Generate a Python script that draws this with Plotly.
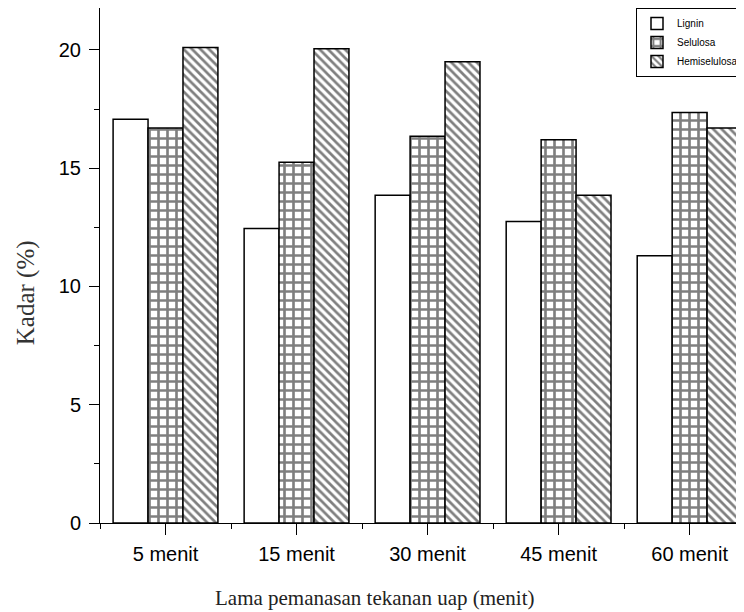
import plotly.graph_objects as go

categories = ["5 menit", "15 menit", "30 menit", "45 menit", "60 menit"]
lignin = [17.07, 12.45, 13.85, 12.75, 11.3]
selulosa = [16.7, 15.25, 16.35, 16.2, 17.35]
hemiselulosa = [20.1, 20.05, 19.5, 13.85, 16.7]
y_ticks = [0, 5, 10, 15, 20]

xpos = list(range(len(categories)))

fig = go.Figure()
fig.add_trace(go.Bar(
    x=xpos, y=lignin, name="Lignin",
    marker=dict(color="white", line=dict(color="black", width=1.5)),
))
fig.add_trace(go.Bar(
    x=xpos, y=selulosa, name="Selulosa",
    marker=dict(color="white", line=dict(color="black", width=1.5),
                pattern=dict(shape="+", fgcolor="black", bgcolor="white",
                             size=9, solidity=0.5, fillmode="overlay")),
))
fig.add_trace(go.Bar(
    x=xpos, y=hemiselulosa, name="Hemiselulosa",
    marker=dict(color="white", line=dict(color="black", width=1.5),
                pattern=dict(shape="\\", fgcolor="black", bgcolor="white",
                             size=6, solidity=0.45, fillmode="overlay")),
))

fig.update_layout(
    width=736, height=604,
    margin=dict(l=92, r=0, t=0, b=89),
    paper_bgcolor="white", plot_bgcolor="white",
    barmode="group", bargap=0.2, bargroupgap=0,
    showlegend=True,
    legend=dict(x=1, y=1, xanchor="right", yanchor="top",
                bordercolor="black", borderwidth=1, bgcolor="white",
                font=dict(family="Liberation Sans, Arial", size=10, color="black"),
                tracegroupgap=0, itemwidth=30),
    font=dict(family="Liberation Sans, Arial", size=20, color="black"),
    annotations=[
        dict(text="Lama pemanasan tekanan uap (menit)", xref="paper", yref="paper",
             x=0.427, y=-0.146, xanchor="center", yanchor="middle", showarrow=False,
             font=dict(family="Liberation Serif, Times New Roman", size=21, color="#222")),
        dict(text="Kadar (%)", xref="paper", yref="paper", textangle=-90,
             x=-0.115, y=0.448, xanchor="center", yanchor="middle", showarrow=False,
             font=dict(family="Liberation Serif, Times New Roman", size=25, color="#333")),
    ],
)

fig.update_xaxes(
    range=[-0.5, 4.415],
    tickmode="array", tickvals=xpos, ticktext=categories,
    ticks="outside", ticklen=11, tickwidth=1, tickcolor="black",
    showline=True, linecolor="black", linewidth=1,
    showgrid=False, zeroline=False,
    minor=dict(tickmode="linear", tick0=0.5, dtick=1, ticks="outside",
               ticklen=5, tickcolor="black", showgrid=False),
    tickfont=dict(family="Liberation Sans, Arial", size=20, color="black"),
    ticklabelstandoff=2,
)
fig.update_yaxes(
    range=[0, 21.77],
    tickmode="array", tickvals=y_ticks,
    ticks="outside", ticklen=10, tickwidth=1, tickcolor="black",
    showline=True, linecolor="black", linewidth=1,
    showgrid=False, zeroline=False,
    minor=dict(tickmode="linear", tick0=0, dtick=2.5, ticks="outside",
               ticklen=5, tickcolor="black", showgrid=False),
    tickfont=dict(family="Liberation Sans, Arial", size=20, color="black"),
    ticklabelstandoff=4,
)

fig.write_html("out.html")
